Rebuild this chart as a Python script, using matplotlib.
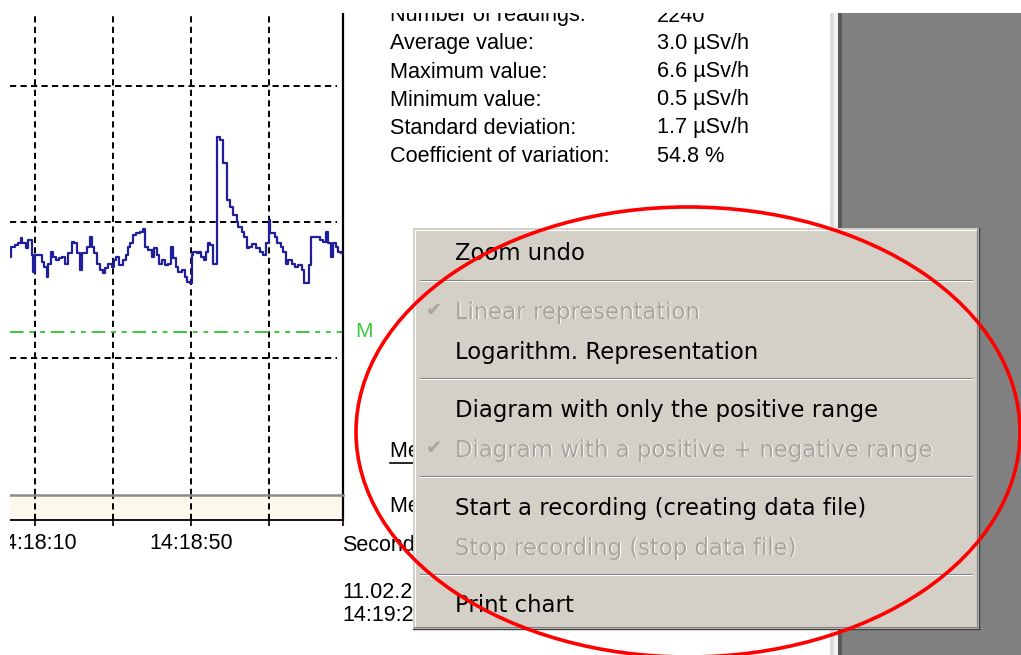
import numpy as np
import matplotlib.pyplot as plt
from matplotlib.patches import Rectangle, Ellipse

# dose rate readings: seconds after 14:18:00 -> µSv/h
t_sec = [3.6, 3.9, 4.9, 5.7, 6.3, 6.8, 7.7, 8.1, 9.2, 9.6,
         10.0, 11.7, 12.3, 13.0, 13.4, 14.0, 14.7, 15.4, 16.2, 16.9,
         17.7, 18.6, 19.4, 20.0, 20.9, 21.5, 22.0, 23.4, 24.1, 24.6,
         25.1, 26.0, 26.7, 27.4, 28.0, 28.8, 29.7, 30.3, 30.9, 31.6,
         32.7, 33.3, 33.9, 34.5, 35.2, 35.9, 36.9, 37.6, 38.1, 39.1,
         39.9, 40.5, 41.2, 41.9, 42.5, 43.3, 44.2, 44.8, 45.5, 46.2,
         46.8, 47.6, 48.5, 49.1, 49.7, 50.2, 50.6, 51.5, 52.1, 52.7,
         53.3, 53.9, 54.4, 55.0, 55.7, 56.8, 57.4, 58.1, 59.2, 60.0,
         60.9, 61.7, 62.1, 63.0, 63.6, 64.3, 65.0, 65.6, 66.8, 67.7,
         68.6, 69.2, 70.1, 70.4, 71.5, 72.2, 73.0, 73.7, 74.4, 75.0,
         75.8, 76.7, 77.5, 78.4, 79.0, 80.3, 80.9, 83.1, 83.8, 84.6,
         85.2, 85.8, 86.5, 87.2, 87.8, 88.4]
dose = [2.98, 3.27, 3.32, 3.37, 3.52, 3.37, 3.23, 3.47, 3.03, 2.54,
        3.03, 2.83, 2.69, 2.39, 2.78, 3.13, 2.98, 2.88, 2.93, 2.98,
        2.78, 3.08, 3.42, 3.37, 3.08, 2.59, 3.08, 3.27, 3.57, 3.27,
        3.08, 2.78, 2.59, 2.49, 2.64, 2.78, 2.69, 2.88, 2.98, 2.74,
        2.88, 3.03, 3.27, 3.37, 3.62, 3.67, 3.72, 3.81, 3.27, 3.18,
        2.98, 3.23, 3.03, 2.78, 2.88, 2.74, 2.78, 3.27, 2.93, 2.69,
        2.54, 2.59, 2.39, 2.25, 2.20, 3.03, 3.13, 3.08, 3.13, 2.98,
        2.88, 3.13, 3.37, 3.32, 2.78, 6.51, 6.41, 5.73, 4.65, 4.45,
        4.21, 4.01, 3.86, 3.72, 3.57, 3.23, 3.27, 3.35, 3.23, 3.13,
        3.03, 3.37, 4.06, 3.67, 3.57, 3.37, 3.27, 3.13, 2.78, 2.88,
        2.78, 2.69, 2.74, 2.59, 2.20, 2.74, 3.57, 3.47, 3.42, 3.72,
        3.37, 2.98, 3.37, 3.27, 3.13, 3.08]
t_start, t_end = 3.6, 89.0
v_min, v_max = -4.03, 10.15
grid_t = [10, 30, 50, 70]
grid_v = [0, 4, 8]
time_labels = ['14:18:10', '', '14:18:50', '', '']
mean_mark = 0.78

stat_names = ['Number of readings:', 'Average value:', 'Maximum value:',
              'Minimum value:', 'Standard deviation:', 'Coefficient of variation:']
stat_values = ['2240', '3.0 µSv/h', '6.6 µSv/h', '0.5 µSv/h', '1.7 µSv/h', '54.8 %']

menu_items = ['Zoom undo', None,
              'Linear representation', 'Logarithm. Representation', None,
              'Diagram with only the positive range',
              'Diagram with a positive + negative range', None,
              'Start a recording (creating data file)',
              'Stop recording (stop data file)', None,
              'Print chart']
menu_disabled = ['Linear representation', 'Diagram with a positive + negative range',
                 'Stop recording (stop data file)']
menu_checked = ['Linear representation', 'Diagram with a positive + negative range']

W, H = 1021, 655
fig = plt.figure(figsize=(W / 100, H / 100), dpi=100)
fig.patch.set_facecolor('white')

def frac(x0, y0, x1, y1):
    return [x0 / W, 1 - y1 / H, (x1 - x0) / W, (y1 - y0) / H]

grid_kw = dict(color='black', lw=1.4, ls=(0, (3.2, 2.2)))
sans = 'Liberation Sans'

# chart
ax = fig.add_axes(frac(10, 13, 343, 495), zorder=1)
ax.step(list(t_sec) + [t_end], list(dose) + [dose[-1]], where='post',
        color='#1f1f9c', lw=1.6, zorder=3)
ax.axhline(mean_mark, color='#3cc83c', lw=1.4, ls=(0, (7, 3, 2.5, 3, 2.5, 3)), zorder=2)
for g in grid_t:
    ax.axvline(g, **grid_kw, zorder=1)
for g in grid_v:
    ax.axhline(g, xmax=0.982, **grid_kw, zorder=1)
ax.set_xlim(t_start, t_end)
ax.set_ylim(v_min, v_max)
ax.set_xticks([])
ax.set_yticks([])
for s in ['top', 'left', 'bottom']:
    ax.spines[s].set_visible(False)
ax.spines['right'].set_linewidth(1.6)
ax.annotate('M', xy=(1, mean_mark), xycoords=('axes fraction', 'data'),
            xytext=(12, 0), textcoords='offset pixels', va='center', ha='left',
            color='#3cc83c', fontsize=15, family=sans, annotation_clip=False)

# time band under the chart
axb = fig.add_axes(frac(10, 495, 343, 520), zorder=1)
axb.set_facecolor('#fdf8ec')
axb.set_xlim(t_start, t_end)
axb.set_ylim(0, 1)
axb.set_yticks([])
axb.set_xticks(grid_t + [t_end])
axb.set_xticklabels(time_labels, family=sans, fontsize=15.5)
axb.tick_params(axis='x', direction='inout', length=8, width=1.2, pad=5.5)
for g in grid_t:
    axb.axvline(g, **grid_kw)
axb.spines['left'].set_visible(False)
axb.spines['top'].set_color('#8a8a8a')
axb.spines['top'].set_linewidth(1.8)
axb.spines['bottom'].set_linewidth(1.3)
axb.spines['right'].set_linewidth(1.6)

# overlay in pixel coordinates
ui = fig.add_axes([0, 0, 1, 1], zorder=10)
ui.set_facecolor('none')
ui.set_xlim(0, W)
ui.set_ylim(H, 0)
ui.axis('off')

ui.add_patch(Rectangle((830, 13), 4, H, color='#dcdcdc', lw=0))
ui.add_patch(Rectangle((834, 13), 4, H, color='#f2f2f2', lw=0))
ui.add_patch(Rectangle((838, 13), 4, H, color='#5a5a5a', lw=0))
ui.add_patch(Rectangle((842, 13), W - 842, H, color='#808080', lw=0))

for i, (name, val) in enumerate(zip(stat_names, stat_values)):
    y = 14 + 28 * i + 7.5
    ui.text(390, y, name, family=sans, fontsize=15.6, va='baseline')
    ui.text(657, y, val, family=sans, fontsize=15.6, va='baseline')

ui.text(390, 457, 'Measured values', family=sans, fontsize=15.5, va='baseline')
ui.plot([390, 414], [463, 463], color='black', lw=1.2)
ui.text(390, 512, 'Measuring time', family=sans, fontsize=15.5, va='baseline')
ui.text(342, 551, 'Seconds', family=sans, fontsize=15.5, va='baseline')
ui.text(342, 598, '11.02.2011', family=sans, fontsize=15.5, va='baseline')
ui.text(342, 621, '14:19:29', family=sans, fontsize=15.5, va='baseline')

# context menu
mx0, mx1, my0, my1 = 413, 979, 228, 629
ui.add_patch(Rectangle((mx0, my0), mx1 - mx0, my1 - my0, facecolor='#d4d0c8', lw=0, zorder=5))
ui.plot([mx0 + 1.5, mx1 - 2], [my0 + 1.5, my0 + 1.5], color='white', lw=0.8, zorder=6)
ui.plot([mx0 + 1.5, mx0 + 1.5], [my0 + 1.5, my1 - 2], color='white', lw=0.8, zorder=6)
ui.plot([mx1 - 2, mx1 - 2], [my0 + 1, my1 - 2], color='#808080', lw=0.8, zorder=6)
ui.plot([mx0 + 1, mx1 - 2], [my1 - 2, my1 - 2], color='#808080', lw=0.8, zorder=6)
ui.plot([mx1 - 0.5, mx1 - 0.5], [my0, my1], color='#404040', lw=1, zorder=6)
ui.plot([mx0, mx1], [my1 - 0.5, my1 - 0.5], color='#404040', lw=1, zorder=6)

y = 233
for item in menu_items:
    if item is None:
        ui.plot([420, 972], [y + 7, y + 7], color='#808080', lw=0.8, zorder=6)
        ui.plot([420, 972], [y + 8.2, y + 8.2], color='white', lw=0.8, zorder=6)
        y += 18
        continue
    base = y + 20 + 7.5
    if item in menu_disabled:
        ui.text(456, base + 1, item, family='DejaVu Sans', fontsize=16.4, color='white', zorder=6)
        ui.text(455, base, item, family='DejaVu Sans', fontsize=16.4, color='#a6a49c', zorder=7)
    else:
        ui.text(455, base, item, family='DejaVu Sans', fontsize=16.4, color='black', zorder=7)
    if item in menu_checked:
        ui.text(434, y + 20, '\u2714', family='DejaVu Sans', fontsize=14, color='#a6a49c',
                ha='center', va='center', zorder=7)
    y += 40

ui.add_patch(Ellipse((688, 432), 664, 450, fill=False, edgecolor='#ff0000', lw=2.6, zorder=9))

# cropped screenshot margins
ui.add_patch(Rectangle((0, 0), W, 13, color='white', lw=0, zorder=12))
ui.add_patch(Rectangle((0, 0), 10, H, color='white', lw=0, zorder=12))

fig.savefig('out.png', dpi=100)
